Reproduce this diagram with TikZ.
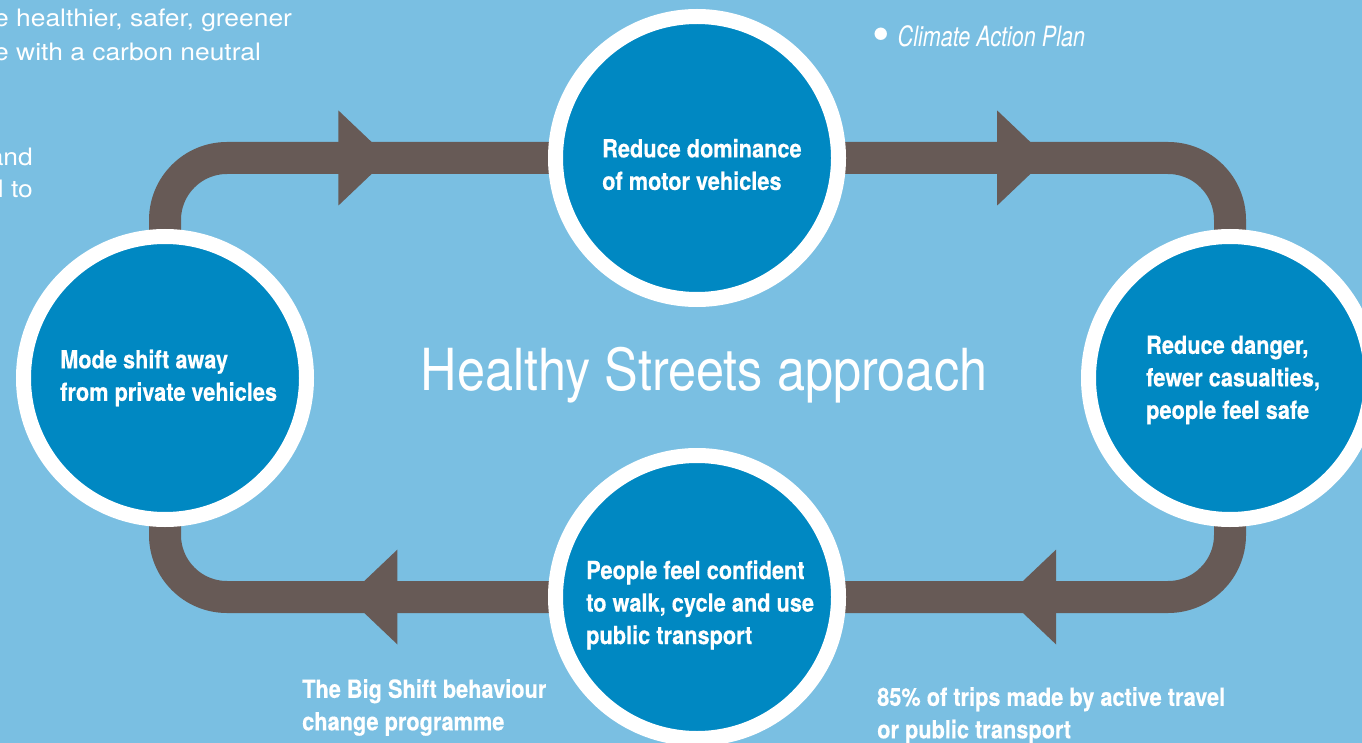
\documentclass[tikz,border=0pt]{standalone}
\usepackage{fontspec}
\setmainfont{TeX Gyre Heros}
\newfontfamily\narrowfont[FakeStretch=0.87]{TeX Gyre Heros}
\newfontfamily\narrowbold[FakeStretch=0.87, FakeBold=0.4]{TeX Gyre Heros}
\newfontfamily\slimfont[FakeStretch=0.77]{TeX Gyre Heros}
\newfontfamily\widefont[FakeStretch=1.1]{TeX Gyre Heros}
\usetikzlibrary{calc, backgrounds}

\definecolor{skyblue}{RGB}{122,191,226}
\definecolor{discblue}{RGB}{0,136,194}
\definecolor{roadbrown}{RGB}{103,90,86}

\tikzset{
  disc/.style={circle, fill=discblue, draw=white, line width=15pt,
    minimum size=283pt, inner sep=0pt},
  intext/.style={text=white, inner sep=0pt, align=left,
    font=\narrowbold\bfseries\fontsize{25}{32.5}\selectfont},
  plaintext/.style={text=white, inner sep=0pt},
  cycleroad/.style={draw=roadbrown, line width=32pt, rounded corners=62pt},
  roadhead/.pic={\fill[roadbrown] (-50,-47.5) -- (0,0) -- (-50,47.5) -- cycle;}
}

\begin{document}
\begin{tikzpicture}[x=1pt, y=-1pt]
    \useasboundingbox (0,0) rectangle (1362,743);
    \clip (0,0) rectangle (1362,743);

    % the four stages of the cycle
    \node[disc] (dom) at (697,158) {};
    \node[disc] (mode) at (165,378) {};
    \node[disc] (danger) at (1230,378) {};
    \node[disc] (confid) at (697,597) {};

    % texts inside the discs
    \node[intext, anchor=west] (domtxt) at (602,164.5) {Reduce dominance\\of motor vehicles};
    \node[intext, anchor=west] (modetxt) at (60,378) {Mode shift away\\from private vehicles};
    \node[intext, anchor=west] (dangertxt) at (1146,380) {Reduce danger,\\fewer casualties,\\people feel safe};
    \node[intext, anchor=west] (confidtxt) at (586,605) {People feel confident\\to walk, cycle and use\\public transport};

    % title in the middle
    \node[plaintext, anchor=base, font=\narrowfont\fontsize{58}{60}\selectfont] (title)
      at (704,390) {Healthy Streets approach};

    % notes round the edge
    \node[plaintext, anchor=north west, align=left, font=\widefont\fontsize{24}{34}\selectfont] (intro)
      at (-6,9) {e healthier, safer, greener\\e with a carbon neutral};
    \node[plaintext, anchor=north east, align=right, font=\widefont\fontsize{24}{32}\selectfont] (introb)
      at (33,148) {and\\l to};
    \node[plaintext, anchor=north west, font=\slimfont\itshape\fontsize{28}{30}\selectfont] (plan)
      at (872,25) {{\normalfont\fontsize{50}{30}\selectfont\raisebox{-5pt}{\textbullet}}\hspace{8pt}Climate Action Plan};
    \node[intext, anchor=north west] (bigshift) at (302,679) {The Big Shift behaviour\\change programme};
    \node[intext, anchor=north west] (target) at (877,687) {85\% of trips made by active travel\\or public transport};

    % road round the cycle, behind the discs
    \begin{pgfonlayer}{background}
      \fill[skyblue] (0,0) rectangle (1362,743);
      \draw[cycleroad] (mode.center) |- (dom.center) -| (danger.center) |- (confid.center) -| (mode.center);
      \pic at ($(mode.center |- dom.center)!0.42!(dom.center)$) {roadhead};
      \pic at ($(dom.center)!0.657!(dom.center -| danger.center)$) {roadhead};
      \pic[rotate=180] at ($(danger.center |- confid.center)!0.42!(confid.center)$) {roadhead};
      \pic[rotate=180] at ($(confid.center)!0.657!(confid.center -| mode.center)$) {roadhead};
    \end{pgfonlayer}
\end{tikzpicture}
\end{document}
